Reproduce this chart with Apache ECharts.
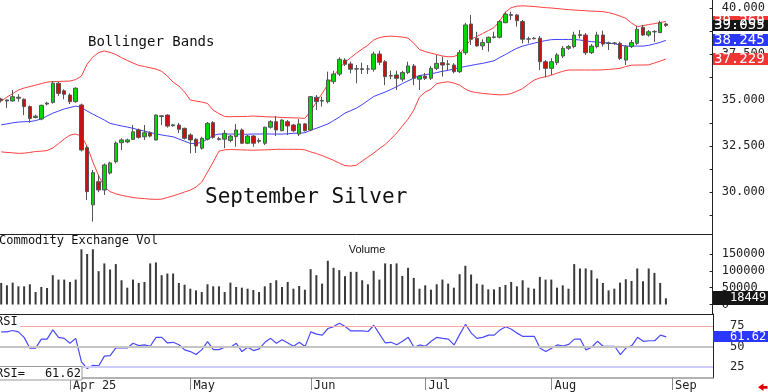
<!DOCTYPE html>
<html><head><meta charset="utf-8">
<script src="https://cdn.jsdelivr.net/npm/echarts@6.0.0/dist/echarts.min.js"></script>
<style>html,body{margin:0;padding:0;background:#fff}#c{width:768px;height:392px}</style>
</head><body><div id="c"></div>
<script>
// ---- data (trading-day index 0 = Apr 1, 2025) ----
const firstDay = -12;
const monthTicks = [0, 21, 42, 62, 84, 105];
const monthLabels = ['Apr 25', 'May', 'Jun', 'Jul', 'Aug', 'Sep'];
const priceTicks = [30, 32.5, 35, 37.5, 40];
const volumeTicks = [0, 50000, 100000, 150000];
const rsiTicks = [25, 50, 75];

// [open, close, low, high]
const candles = [
[35.05,34.98,34.87,35.12],[35.0,34.95,34.57,35.02],[34.95,35.18,34.91,35.54],[35.15,35.1,34.91,35.31],
[35.04,34.64,34.18,35.08],[34.64,34.0,33.77,34.7],[34.05,34.12,34.0,34.2],[33.97,34.71,33.9,34.75],
[34.83,34.78,34.7,34.9],[34.87,35.91,34.8,36.03],[35.91,35.36,35.22,36.0],[35.5,35.31,35.04,35.58],
[35.27,34.91,34.78,35.36],[34.91,35.64,34.85,35.69],[34.73,32.28,32.2,34.8],[32.41,30.02,29.56,32.5],
[29.3,31.05,28.39,31.2],[30.56,30.11,29.99,30.92],[30.11,31.47,29.84,31.55],[31.03,31.58,30.95,31.65],
[31.65,32.66,31.55,32.75],[32.68,32.83,32.28,32.92],[32.72,32.83,32.65,32.9],[32.86,33.27,32.83,33.64],
[33.37,32.97,32.9,33.45],[33.0,33.22,32.83,33.64],[33.22,33.04,32.97,33.3],[32.83,34.18,32.8,34.22],
[34.1,34.14,33.64,34.18],[34.18,33.58,33.5,34.22],[33.6,33.65,33.55,33.7],[33.64,33.41,33.2,33.75],
[33.46,32.92,32.85,33.5],[33.1,32.83,32.1,33.19],[32.87,32.5,32.12,32.92],[32.38,32.92,32.3,33.0],
[32.87,33.73,32.8,33.8],[33.77,32.97,32.9,33.85],[32.85,32.9,32.8,33.0],[32.87,33.19,32.38,33.37],
[32.8,33.04,32.7,33.1],[33.01,33.37,32.46,33.7],[33.37,32.65,32.6,33.45],[32.65,33.04,32.6,33.1],
[33.04,32.65,32.46,33.1],[32.8,32.76,32.65,32.92],[32.65,33.52,32.55,33.55],[33.52,33.82,33.45,33.9],
[33.82,33.37,33.04,34.13],[33.33,33.91,33.3,33.95],[33.82,33.59,33.1,33.91],[33.64,33.33,33.25,33.7],
[33.15,33.7,33.04,33.96],[33.7,33.33,33.28,33.75],[33.37,35.18,33.3,35.2],[35.15,34.91,34.46,35.27],
[34.98,34.94,34.64,35.18],[34.91,36.09,34.82,36.54],[36.0,36.41,35.87,36.59],[36.41,37.21,36.3,37.32],
[37.17,36.94,36.85,37.27],[36.96,36.67,36.45,37.08],[36.68,36.7,35.91,36.9],[36.7,36.66,36.41,37.03],
[36.68,36.69,36.41,36.9],[36.67,37.5,36.54,37.63],[37.5,37.05,36.9,37.68],[37.08,36.27,35.81,37.17],
[36.3,36.33,36.13,36.59],[36.36,36.18,35.54,36.59],[36.13,36.49,36.0,36.59],[36.49,36.85,36.41,37.08],
[36.85,36.18,35.81,36.96],[36.13,36.3,35.54,36.36],[36.3,36.18,36.09,36.47],[36.18,36.72,36.09,36.85],
[36.72,36.99,36.63,37.45],[37.03,36.9,36.27,37.35],[36.96,36.94,36.63,37.17],[36.9,36.54,36.45,37.0],
[36.54,37.57,36.47,37.72],[37.57,39.08,37.45,39.2],[39.13,38.3,37.99,39.62],[38.35,37.94,37.9,38.71],
[37.94,38.12,37.72,38.3],[38.12,38.41,37.63,38.45],[38.4,38.43,38.35,38.71],[38.41,39.26,38.35,39.35],
[39.2,39.67,39.18,39.8],[39.64,39.6,39.35,39.8],[39.62,39.31,38.99,39.66],[39.26,38.3,38.08,39.35],
[38.31,38.32,38.08,38.44],[38.33,38.36,38.3,38.42],[38.36,37.08,36.63,38.48],[37.08,36.72,36.23,37.17],
[36.72,37.08,36.36,37.27],[37.03,37.45,36.9,37.55],[37.39,37.81,37.28,37.93],[37.81,37.9,37.72,37.99],
[37.9,38.53,37.81,38.71],[38.55,38.51,38.35,38.8],[38.53,37.57,37.45,38.64],[37.57,37.93,37.5,38.04],
[37.9,38.53,37.81,38.71],[38.53,38.04,37.9,38.77],[38.1,38.08,37.72,38.17],[38.07,38.1,38.0,38.15],
[38.08,37.26,37.17,38.17],[37.17,37.9,36.9,37.99],[37.9,38.12,37.83,38.26],[38.08,38.84,37.99,39.02],
[38.95,38.53,38.48,39.08],[38.53,38.71,38.44,38.8],[38.7,38.72,38.15,38.8],[38.66,39.2,38.64,39.31],
[39.13,39.055,38.97,39.2]
];

const upperBand = [34.94,35.16,35.35,35.54,35.65,35.73,35.81,35.89,35.97,36.0,36.01,36.02,36.03,36.11,36.3,36.95,
37.33,37.58,37.66,37.59,37.47,37.3,37.15,37.01,36.88,36.82,36.75,36.68,36.56,36.3,35.97,35.76,35.43,35.0,34.94,34.89,
34.81,34.45,34.26,34.1,34.09,34.1,34.1,34.11,34.13,34.11,34.09,34.08,34.07,34.05,34.04,34.03,34.02,34.0,34.4,34.89,
35.35,35.84,36.3,36.71,37.06,37.3,37.55,37.77,37.98,38.26,38.39,38.45,38.47,38.45,38.42,38.36,38.09,37.74,37.63,37.55,
37.47,37.39,37.35,37.36,37.5,37.9,38.31,38.45,38.61,38.77,38.94,39.29,39.78,40.02,40.1,40.12,40.1,40.08,40.05,40.02,
40.0,39.97,39.94,39.91,39.89,39.87,39.85,39.83,39.82,39.8,39.75,39.67,39.56,39.44,39.18,38.99,39.04,39.1,39.15,39.21,39.269];

const middleBand = [33.65,33.7,33.76,33.8,33.82,33.83,33.88,33.97,34.13,34.28,34.4,34.51,34.59,34.67,34.6,34.4,
34.23,34.07,33.91,33.73,33.66,33.59,33.53,33.46,33.38,33.31,33.23,33.16,33.1,33.05,33.0,32.88,32.76,32.64,32.64,32.69,
32.88,33.07,33.15,33.15,33.15,33.15,33.14,33.14,33.15,33.15,33.16,33.15,33.15,33.15,33.16,33.19,33.2,33.22,33.36,33.46,
33.58,33.7,33.88,34.07,34.29,34.42,34.56,34.75,34.97,35.19,35.31,35.43,35.57,35.72,35.89,36.04,36.19,36.33,36.38,36.42,
36.49,36.56,36.61,36.69,36.76,36.82,36.88,36.94,36.99,37.06,37.13,37.31,37.47,37.65,37.81,37.93,38.01,38.09,38.16,38.23,
38.28,38.29,38.29,38.29,38.29,38.26,38.21,38.17,38.15,38.12,38.09,38.06,37.99,37.93,37.93,37.93,37.93,37.97,38.05,38.13,38.245];

const lowerBand = [32.18,32.15,32.13,32.1,32.11,32.15,32.2,32.22,32.25,32.39,32.63,32.88,33.09,33.15,33.04,32.47,
31.63,30.89,30.29,30.02,29.9,29.82,29.76,29.7,29.66,29.64,29.61,29.6,29.61,29.7,29.79,29.89,30.0,30.1,30.27,30.54,
31.08,31.63,32.22,32.29,32.31,32.3,32.29,32.28,32.27,32.28,32.29,32.3,32.32,32.32,32.32,32.32,32.32,32.29,32.18,32.09,
31.98,31.85,31.72,31.57,31.43,31.41,31.46,31.68,31.9,32.11,32.36,32.58,32.88,33.2,33.58,33.96,34.45,35.16,35.43,35.59,
35.89,35.95,35.99,35.92,35.81,35.59,35.46,35.4,35.36,35.33,35.3,35.28,35.29,35.35,35.48,35.62,35.86,36.08,36.2,36.26,
36.35,36.46,36.56,36.63,36.63,36.63,36.63,36.63,36.63,36.64,36.66,36.69,36.72,36.82,36.89,36.9,36.9,36.91,37.01,37.11,37.229];

const volume = [64000,57000,65000,54000,54000,60000,37000,52000,49000,87000,74000,74000,67000,74000,164000,150000,
164000,99000,122000,104000,120000,72000,50000,74000,64000,67000,122000,125000,87000,92000,92000,64000,59000,47000,42000,37000,
60000,54000,54000,37000,65000,52000,50000,47000,43000,37000,54000,64000,72000,52000,67000,47000,55000,44000,105000,87000,
62000,130000,109000,102000,84000,97000,97000,72000,60000,100000,74000,122000,120000,122000,85000,109000,79000,47000,57000,44000,
60000,74000,62000,50000,90000,115000,89000,62000,59000,45000,45000,52000,58000,67000,54000,72000,50000,47000,82000,74000,
74000,50000,57000,47000,120000,107000,107000,102000,77000,64000,42000,47000,65000,75000,70000,107000,69000,107000,94000,64000,18449];

const rsi = [67.6,67.6,69.3,67.6,61.0,47.9,47.9,58.9,58.9,70.0,61.0,59.8,53.8,59.8,31.2,23.2,
27.1,26.4,38.3,39.0,48.2,48.2,48.2,53.8,51.0,51.8,50.2,61.0,61.0,54.2,55.0,52.1,45.8,43.8,40.2,46.2,
55.7,46.2,46.2,49.0,49.0,53.8,43.8,49.0,45.0,47.0,55.0,59.8,53.8,58.1,54.2,50.2,55.0,49.8,67.6,64.9,
63.7,71.7,74.0,78.0,74.0,68.8,68.8,68.8,68.1,75.6,64.9,54.2,55.0,52.1,56.2,61.0,49.0,51.8,50.2,56.2,
61.0,59.8,58.9,51.8,64.9,76.8,66.1,59.8,61.0,63.7,63.7,70.0,73.8,70.8,66.1,62.1,62.1,62.1,47.9,43.8,
47.9,51.8,50.5,52.5,58.9,58.9,45.8,49.0,56.2,50.2,50.2,50.2,40.2,48.2,51.0,61.0,56.2,56.9,56.9,63.7,61.62];

// ---- build ----
const days = candles.map((_, k) => k + firstDay);
const pair = arr => arr.map((v, k) => [days[k], v]);
const X_MIN = -12.21, X_MAX = 112.16;
const MONO = '"DejaVu Sans Mono", monospace';
const priceTickVals = []; for (let t = 28.75; t <= 40.001; t += 1.25) priceTickVals.push(+t.toFixed(2));

const xBase = (gi) => ({
  type: 'value', gridIndex: gi, min: X_MIN, max: X_MAX,
  axisLine: {show: true, onZero: false, lineStyle: {color: '#222', width: 1}},
  axisTick: {show: false}, axisLabel: {show: false}, splitLine: {show: false}
});
const yBase = (gi, min, max, labels, ticks, fmt, margin) => ({
  type: 'value', gridIndex: gi, position: 'right', min, max,
  axisLine: {show: true, onZero: false, lineStyle: {color: '#222', width: 1}},
  axisTick: {show: true, inside: true, length: 3, customValues: ticks, lineStyle: {color: '#222'}},
  axisLabel: {show: true, customValues: labels, formatter: fmt, margin, color: '#222',
    fontFamily: MONO, fontSize: 12},
  splitLine: {show: false}
});

const chart = echarts.init(document.getElementById('c'), null, {renderer: 'canvas'});
const option = {
  animation: false,
  backgroundColor: '#fff',
  grid: [
    {left: 0, right: 55, top: 0, height: 234},
    {left: 0, right: 55, top: 234.5, height: 79.5},
    {left: 0, right: 55, top: 314, height: 66}
  ],
  xAxis: [
    xBase(0), xBase(1),
    Object.assign(xBase(2), {
      axisLine: {show: true, onZero: false, lineStyle: {color: '#999', width: 1.5}},
      axisTick: {show: true, customValues: monthTicks, length: 12, lineStyle: {color: '#888', width: 1}},
      axisLabel: {show: true, customValues: monthTicks, formatter: v => monthLabels[monthTicks.indexOf(v)],
        align: 'left', padding: [0, 0, 0, 3], margin: 2, color: '#222', fontFamily: MONO, fontSize: 12}
    })
  ],
  yAxis: [
    yBase(0, 27.717, 40.4348, priceTicks, priceTickVals, v => v.toFixed(3), 9),
    yBase(1, -28200, 207900, volumeTicks, volumeTicks, v => String(v), 9),
    yBase(2, 11.82, 89.24, rsiTicks, rsiTicks, v => String(v), 17)
  ],
  series: [
    {type: 'line', xAxisIndex: 0, yAxisIndex: 0, data: pair(upperBand), showSymbol: false,
      lineStyle: {color: '#ff4040', width: 1}, z: 2},
    {type: 'line', xAxisIndex: 0, yAxisIndex: 0, data: pair(middleBand), showSymbol: false,
      lineStyle: {color: '#4040ff', width: 1}, z: 2},
    {type: 'line', xAxisIndex: 0, yAxisIndex: 0, data: pair(lowerBand), showSymbol: false,
      lineStyle: {color: '#ff4040', width: 1}, z: 2},
    {type: 'candlestick', xAxisIndex: 0, yAxisIndex: 0,
      data: candles.map((c, k) => [days[k], c[0], c[1], c[2], c[3]]),
      barWidth: 4,
      itemStyle: {color: '#00d800', color0: '#cc1010', borderColor: '#555', borderColor0: '#555', borderWidth: 1},
      z: 3},
    {type: 'bar', xAxisIndex: 1, yAxisIndex: 1, data: pair(volume), barWidth: 2,
      itemStyle: {color: '#3a3a3a'}},
    {type: 'line', xAxisIndex: 2, yAxisIndex: 2, data: pair(rsi), showSymbol: false,
      lineStyle: {color: '#4a4aff', width: 1.2}, z: 3,
      markLine: {silent: true, symbol: 'none', label: {show: false}, animation: false,
        data: [
          {yAxis: 75, lineStyle: {color: '#f4a8a8', width: 1, type: 'solid'}},
          {yAxis: 50, lineStyle: {color: '#c4c4c4', width: 2, type: 'solid'}},
          {yAxis: 25, lineStyle: {color: '#ccccff', width: 2, type: 'solid'}}
        ]}}
  ]
};
chart.setOption(option);

// ---- value tags & captions ----
const last = a => a[a.length - 1];
const yOf = (axis, v) => chart.convertToPixel({yAxisIndex: axis}, v);
function tag(axis, v, txt, bg, size, tx, h) {
  const y = yOf(axis, v);
  return [
    {type: 'rect', z: 100, shape: {x: 713, y: Math.round(y - h / 2), width: 55, height: h}, style: {fill: bg}},
    {type: 'text', z: 101, x: tx, y: y, style: {text: txt, fill: '#fff', font: size + 'px ' + MONO, verticalAlign: 'middle', align: 'left'}}
  ];
}
const txt = (x, y, s, font, extra, z) => ({type: 'text', z: z || 90, x, y,
  style: Object.assign({text: s, fill: '#111', font, verticalAlign: 'middle', align: 'left'}, extra || {})});

const lastC = last(candles);
const graphics = [].concat(
  tag(0, last(upperBand), last(upperBand).toFixed(3), '#f03535', 14, 714, 11),
  tag(0, lastC[1], lastC[1].toFixed(3), '#151515', 14, 714, 11),
  tag(0, last(middleBand), last(middleBand).toFixed(3), '#2a38ff', 14, 714, 12),
  tag(0, last(lowerBand), last(lowerBand).toFixed(3), '#f03535', 14, 714, 12),
  tag(1, last(volume), String(last(volume)), '#151515', 12, 730, 14),
  tag(2, last(rsi), last(rsi).toFixed(2), '#2a38ff', 12, 730, 11),
  [
    txt(88, 42, 'Bollinger Bands', '14px ' + MONO),
    txt(205, 198, 'September Silver', '21px ' + MONO),
    txt(-1, 241, 'Commodity Exchange Vol', '12px ' + MONO),
    txt(367, 250, 'Volume', '11px "Liberation Sans", Arial, sans-serif', {align: 'center'}),
    {type: 'rect', z: 89, shape: {x: 0, y: 315, width: 20, height: 13}, style: {fill: '#fff'}},
    txt(-4, 321.5, 'RSI', '12px ' + MONO),
    {type: 'rect', z: 95, shape: {x: -1, y: 366.5, width: 83, height: 13.5}, style: {fill: '#fff', stroke: '#999', lineWidth: 1}},
    txt(-4, 373.5, 'RSI=', '12px ' + MONO, null, 96),
    txt(81, 373.5, last(rsi).toFixed(2), '12px ' + MONO, {align: 'right'}, 96),
    {type: 'polygon', z: 100, shape: {points: [[758, 387.3], [763.5, 383.5], [763.5, 386], [767.5, 386], [767.5, 388.7], [763.5, 388.7], [763.5, 391]]}, style: {fill: '#e00000'}}
  ]
);
chart.setOption({graphic: graphics});
</script>
</body></html>
